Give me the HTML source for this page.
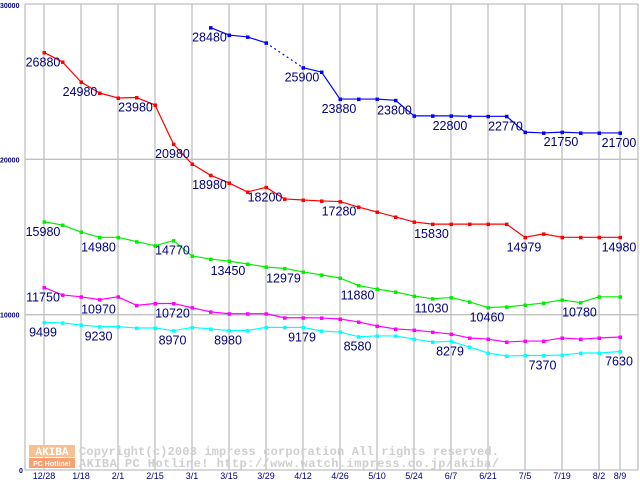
<!DOCTYPE html>
<html><head><meta charset="utf-8"><style>
html,body{margin:0;padding:0;background:#fff;}
svg{display:block;}
</style></head><body>
<svg id="chart" width="640" height="480" viewBox="0 0 640 480" xmlns="http://www.w3.org/2000/svg" font-family="Liberation Sans, sans-serif">
<g id="grid"></g>
<g id="watermark">
  <rect x="29" y="445" width="46" height="12" fill="#f8c090"/>
  <text x="52" y="455" font-size="11" font-weight="bold" fill="#fff" text-anchor="middle" font-family="Liberation Mono, monospace">AKIBA</text>
  <rect x="29" y="458" width="46" height="10" fill="#f8a070"/>
  <text x="52" y="466" font-size="7" font-weight="bold" fill="#fff" text-anchor="middle">PC Hotline!</text>
  <text x="79" y="455" font-size="12" font-weight="bold" fill="#cfcfcf" font-family="Liberation Mono, monospace" textLength="420">Copyright(c)2003 impress corporation All rights reserved.</text>
  <text x="79" y="467" font-size="12" font-weight="bold" fill="#cfcfcf" font-family="Liberation Mono, monospace" textLength="420">AKIBA PC Hotline!  http://www.watch.impress.co.jp/akiba/</text>
</g>
<g id="series"></g>
<g id="labels"></g>
</svg>
<script>
const categories = ["12/28","1/11","1/18","1/25","2/1","2/8","2/15","2/22","3/1","3/8","3/15","3/22","3/29","4/5","4/12","4/19","4/26","5/3","5/10","5/17","5/24","5/31","6/7","6/14","6/21","6/28","7/5","7/12","7/19","7/26","8/2","8/9"];
const tickIndices = [0,2,4,6,8,10,12,14,16,18,20,22,24,26,28,30,31];
const tickLabels = ["12/28","1/18","2/1","2/15","3/1","3/15","3/29","4/12","4/26","5/10","5/24","6/7","6/21","7/5","7/19","8/2","8/9"];
const yTicks = [0,10000,20000,30000];
const blueValues = [null,null,null,null,null,null,null,null,null,28480,28000,27880,27500,null,25900,25620,23880,23880,23880,23800,22800,22800,22800,22770,22770,22770,21750,21700,21750,21700,21700,21700];
const redValues = [26880,26270,24980,24270,23950,23980,23500,20980,19700,18980,18480,17900,18200,17450,17380,17320,17280,16930,16610,16290,15970,15830,15830,15830,15830,15830,14979,15200,14980,14980,14980,14980];
const greenValues = [15980,15770,15320,14980,14980,14700,14440,14770,13780,13580,13450,13260,13070,12979,12750,12560,12360,11880,11650,11460,11200,11030,11100,10820,10460,10500,10620,10750,10950,10780,11150,11150];
const magentaValues = [11750,11270,11150,10970,11150,10600,10720,10720,10450,10180,10060,10060,10060,9800,9800,9790,9720,9530,9270,9080,9010,8880,8750,8500,8430,8240,8300,8300,8500,8430,8500,8560];
const cyanValues = [9499,9470,9330,9230,9230,9140,9140,8970,9180,9080,8980,8980,9180,9179,9179,8950,8880,8580,8630,8630,8430,8240,8279,7920,7530,7340,7370,7370,7400,7530,7530,7630];
const blueLabelIdx = [9,14,16,19,22,25,28,31];
const redLabelIdx = [0,2,5,7,9,12,16,21,26,31];
const greenLabelIdx = [0,3,7,10,13,17,21,24,29];
const magentaLabelIdx = [0,3,7];
const cyanLabelIdx = [0,3,7,10,14,17,22,27,31];

const NS = "http://www.w3.org/2000/svg";
const X0 = 44, STEP = 18.5, Y0 = 470, YTOP = 4, YMAX = 30000;
function xs(i){ return i === categories.length-1 ? 620 : X0 + STEP*i; }
function ys(v){ return Y0 - (Y0-YTOP)*v/YMAX; }
function mk(tag, attrs, parent){ const e=document.createElementNS(NS,tag); for(const k in attrs) e.setAttribute(k,attrs[k]); parent.appendChild(e); return e; }

const grid = document.getElementById('grid');
tickIndices.forEach((ti,k)=>{
  const l = mk('line',{x1:xs(ti),x2:xs(ti),y1:YTOP,y2:Y0,stroke:'#c0c0c0','stroke-width':1.3},grid);
  
  
  const t = mk('text',{x:xs(ti),y:479,'font-size':9,fill:'#000080','text-anchor':'middle'},grid);
  t.textContent = tickLabels[k];
  
  
});
yTicks.forEach(v=>{
  const l = mk('line',{x1:25,x2:638,y1:ys(v),y2:ys(v),stroke:'#c0c0c0','stroke-width':1.3},grid);
  
  
  const t = mk('text',{x:v===0?19:0,y:ys(v)+(v===30000?4:3),'font-size':7,'font-weight':'bold',fill:'#000080'},grid);
  t.textContent = String(v);
  
  
});
let ax = mk('line',{x1:25,x2:25,y1:YTOP,y2:Y0,stroke:'#c0c0c0','stroke-width':1.3},grid);


let rx = mk('line',{x1:638,x2:638,y1:YTOP,y2:Y0,stroke:'#c0c0c0','stroke-width':1.3},grid);



const seriesG = document.getElementById('series');
const labelsG = document.getElementById('labels');
function drawSeries(vals, color, name, labelIdx){
  const g = mk('g',{},seriesG);
  
  
  let prev = null, prevI = -1;
  for(let i=0;i<vals.length;i++){
    if(vals[i]==null) continue;
    if(prev!=null){
      const gap = i-prevI>1;
      const l = mk('line',{x1:xs(prevI),y1:ys(prev),x2:xs(i),y2:ys(vals[i]),stroke:color,'stroke-width':1.2},g);
      if(gap) l.setAttribute('stroke-dasharray','2,3');
      
      
    }
    prev = vals[i]; prevI = i;
  }
  vals.forEach((v,i)=>{
    if(v==null) return;
    const r = mk('rect',{x:xs(i)-1.5,y:ys(v)-1.5,width:3.5,height:3.5,fill:color},g);
    
    
  });
  labelIdx.forEach(i=>{
    const t = mk('text',{x:xs(i)-1,y:ys(vals[i])+14,'font-size':12.5,fill:'#000080','text-anchor':'middle'},labelsG);
    t.textContent = String(vals[i]);
    
    
  });
}
drawSeries(blueValues,'#0000ff','blue',blueLabelIdx);
drawSeries(redValues,'#ff0000','red',redLabelIdx);
drawSeries(greenValues,'#00ee00','green',greenLabelIdx);
drawSeries(magentaValues,'#ff00ff','magenta',magentaLabelIdx);
drawSeries(cyanValues,'#00ffff','cyan',cyanLabelIdx);
</script>
</body></html>
